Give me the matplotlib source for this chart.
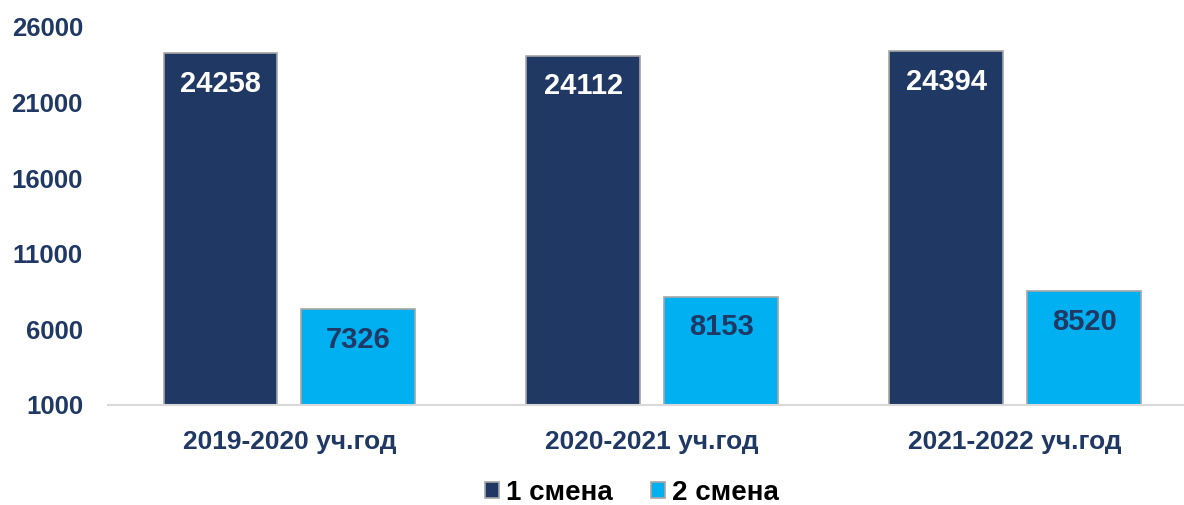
import numpy as np
import matplotlib
matplotlib.use('Agg')
import matplotlib.pyplot as plt

plt.rcParams['font.family'] = ['Liberation Sans', 'DejaVu Sans']
plt.rcParams['font.weight'] = 'bold'

categories = ['2019-2020 уч.год', '2020-2021 уч.год', '2021-2022 уч.год']
shift1 = [24258, 24112, 24394]
shift2 = [7326, 8153, 8520]
series_names = ['1 смена', '2 смена']

navy = '#203864'
light = '#00B0F0'
edge = '#A6A6A6'

fig = plt.figure(figsize=(11.84, 5.05), dpi=100)
ax = fig.add_axes([108/1184, 100/505, 1076/1184, 378/505])

x = np.arange(len(categories))
w = 0.314
off = 0.19
base = 1000
b1 = ax.bar(x - off, np.array(shift1) - base, w, bottom=base, color=navy,
            edgecolor=edge, linewidth=1.2, label=series_names[0])
b2 = ax.bar(x + off, np.array(shift2) - base, w, bottom=base, color=light,
            edgecolor=edge, linewidth=1.2, label=series_names[1])

# value labels inside the top of each bar
for xi, v in zip(x - off, shift1):
    ax.annotate(str(v), (xi, v), xytext=(0, -22), textcoords='offset points',
                ha='center', va='center', color='white', fontsize=21, fontweight='bold')
for xi, v in zip(x + off, shift2):
    ax.annotate(str(v), (xi, v), xytext=(0, -22), textcoords='offset points',
                ha='center', va='center', color=navy, fontsize=21, fontweight='bold')

ax.set_xlim(-0.5, 2.4656)
ax.set_ylim(1000, 26000)
ax.set_yticks(np.arange(1000, 26001, 5000))
ax.set_xticks(x)
ax.set_xticklabels(categories)
ax.tick_params(axis='y', length=0, pad=18, labelsize=18.5, labelcolor=navy)
ax.tick_params(axis='x', length=0, pad=18, labelsize=19, labelcolor=navy)
for t in ax.get_yticklabels() + ax.get_xticklabels():
    t.set_fontweight('bold')

for s in ['top', 'right', 'left']:
    ax.spines[s].set_visible(False)
ax.spines['bottom'].set_color('#D9D9D9')
ax.spines['bottom'].set_linewidth(1.5)

fig.legend(handles=[b1, b2], loc='center', bbox_to_anchor=(632/1184, 12/505),
           ncol=2, frameon=False, prop={'size': 20, 'weight': 'bold'},
           handlelength=0.5, handleheight=0.5, handletextpad=0.25, columnspacing=1.4)

fig.savefig('out.png', dpi=100)
